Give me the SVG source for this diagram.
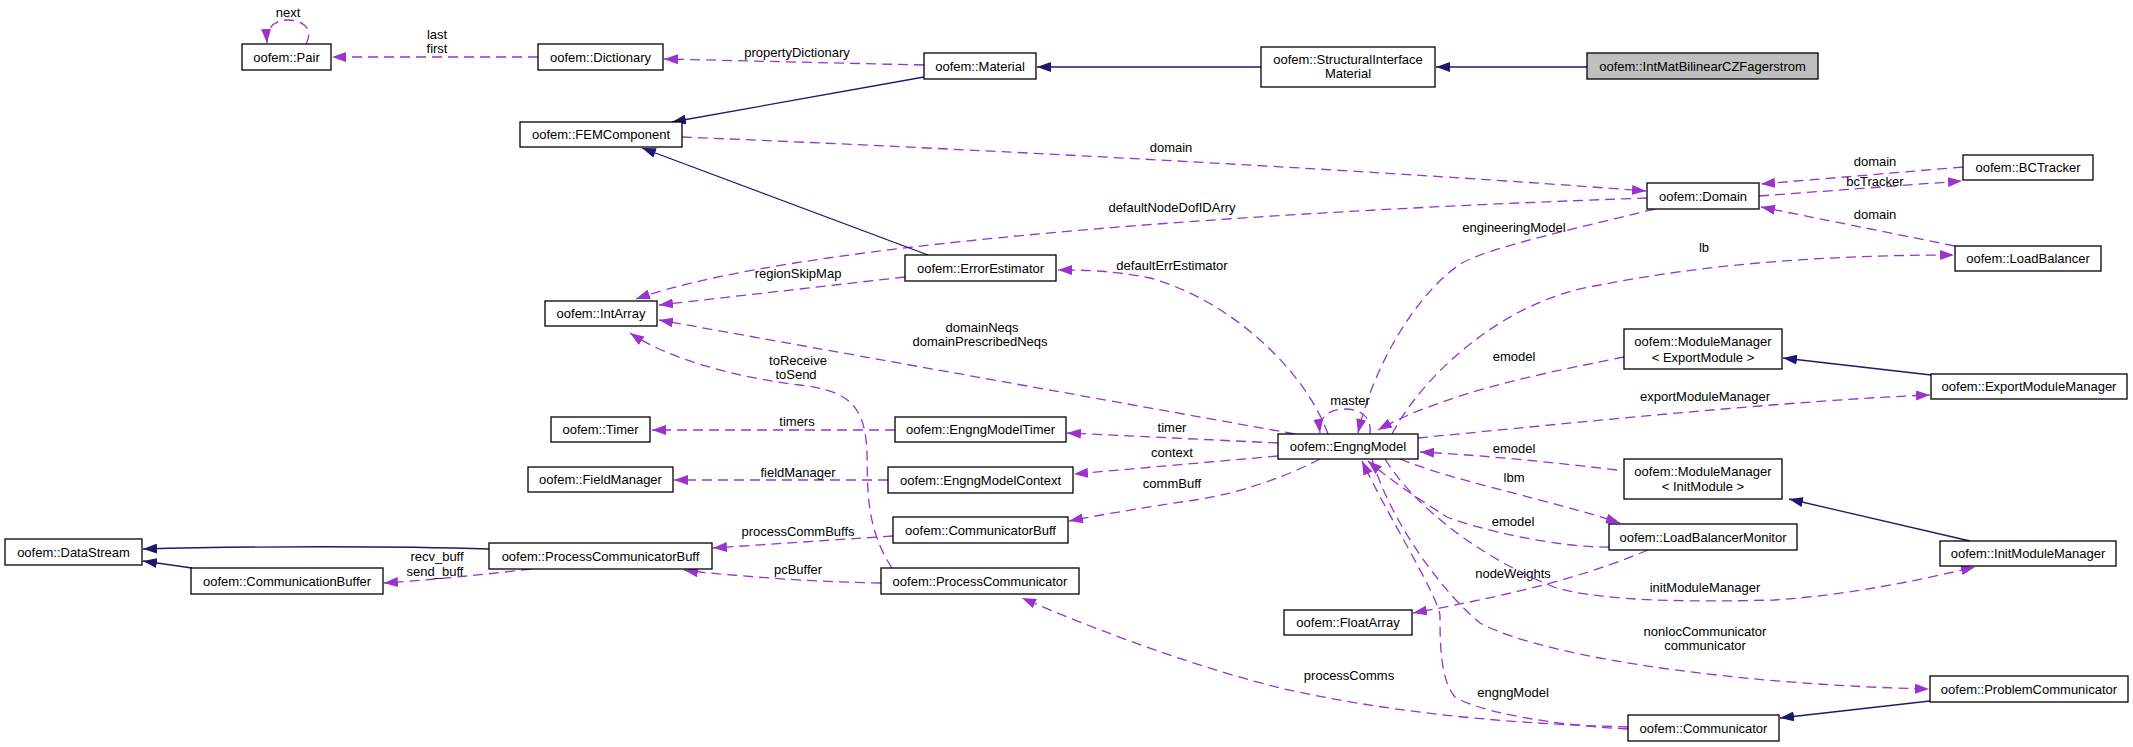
<svg xmlns="http://www.w3.org/2000/svg" width="2133" height="747" viewBox="0 0 2133 747">
<style>
.n rect{fill:#fff;stroke:#000;stroke-width:1.3}
.n rect.focus{fill:#bfbfbf}
text{font-family:"Liberation Sans",Arial,Helvetica,sans-serif;font-size:13px;fill:#000;text-anchor:middle}
.d{fill:none;stroke:#9a32cd;stroke-width:1.3;stroke-dasharray:10,6;marker-end:url(#ap)}
.s{fill:none;stroke:#191970;stroke-width:1.3;marker-end:url(#an)}
</style>
<defs>
<marker id="ap" markerUnits="userSpaceOnUse" markerWidth="14" markerHeight="10" viewBox="0 0 14 10" refX="14" refY="5" orient="auto"><path d="M0,0L14,5L0,10z" fill="#9a32cd"/></marker>
<marker id="an" markerUnits="userSpaceOnUse" markerWidth="14" markerHeight="10" viewBox="0 0 14 10" refX="14" refY="5" orient="auto"><path d="M0,0L14,5L0,10z" fill="#191970"/></marker>
</defs>
<rect width="2133" height="747" fill="#fff"/>
<g id="connectors">
<path class="d" d="M306,44C314,30 304,20 288,20C274,20 266,28 267,43"/>
<text x="288" y="16.5">next</text>
<path class="d" d="M538,57L332,57"/>
<text x="437" y="38.5">last</text><text x="437" y="52.5">first</text>
<path class="d" d="M924,65L664,59"/>
<text x="797" y="56.5">propertyDictionary</text>
<path class="s" d="M924,77L672,122"/>
<path class="s" d="M1261,67L1037,67"/>
<path class="s" d="M1587,67L1436,67"/>
<path class="d" d="M682,137C1000,150 1400,172 1646,191"/>
<text x="1171" y="151.5">domain</text>
<path class="d" d="M1647,198C1300,210 800,240 636,299"/>
<text x="1172" y="211.5">defaultNodeDofIDArry</text>
<path class="s" d="M928,255L642,148"/>
<path class="d" d="M905,277L659,305"/>
<text x="798" y="277.5">regionSkipMap</text>
<path class="d" d="M1963,167L1761,184"/>
<text x="1875" y="165.5">domain</text>
<path class="d" d="M1759,196L1962,181"/>
<text x="1875" y="185.5">bcTracker</text>
<path class="d" d="M1955,246L1761,207"/>
<text x="1875" y="218.5">domain</text>
<path class="d" d="M1655,209C1560,232 1490,248 1462,263C1420,290 1375,360 1358,433"/>
<text x="1514" y="231.5">engineeringModel</text>
<path class="d" d="M1392,434C1420,380 1500,300 1600,285C1700,265 1820,255 1954,255"/>
<text x="1704" y="251.5">lb</text>
<path class="d" d="M1328,434C1305,370 1230,300 1150,278C1110,270 1080,270 1058,270"/>
<text x="1172" y="269.5">defaultErrEstimator</text>
<path class="d" d="M1295,434L659,320"/>
<text x="982" y="331.5">domainNeqs</text><text x="980" y="345.5">domainPrescribedNeqs</text>
<path class="d" d="M892,568C860,520 870,470 866,440C862,400 840,390 800,385C740,378 670,360 630,333"/>
<text x="798" y="364.5">toReceive</text><text x="796" y="378.5">toSend</text>
<path class="d" d="M1370,434C1372,416 1360,409 1345,409C1330,409 1318,416 1320,433"/>
<text x="1350" y="404.5">master</text>
<path class="d" d="M1624,357C1560,370 1450,390 1378,430"/>
<text x="1514" y="360.5">emodel</text>
<path class="d" d="M1418,438C1600,420 1800,400 1930,395"/>
<text x="1705" y="400.5">exportModuleManager</text>
<path class="s" d="M1931,375L1783,358"/>
<path class="d" d="M895,430L652,430"/>
<text x="797" y="425.5">timers</text>
<path class="d" d="M1278,443L1067,433"/>
<text x="1172" y="431.5">timer</text>
<path class="d" d="M888,480L674,480"/>
<text x="798" y="476.5">fieldManager</text>
<path class="d" d="M1278,456L1074,474"/>
<text x="1172" y="456.5">context</text>
<path class="d" d="M1320,459C1280,480 1230,495 1195,500C1140,508 1100,515 1069,521"/>
<text x="1172" y="487.5">commBuff</text>
<path class="d" d="M1617,470C1550,462 1480,455 1420,452"/>
<text x="1514" y="452.5">emodel</text>
<path class="d" d="M1400,459C1450,480 1550,500 1620,523"/>
<text x="1514" y="481.5">lbm</text>
<path class="d" d="M1609,547C1560,548 1480,530 1447,517C1420,500 1390,480 1368,461"/>
<text x="1513" y="525.5">emodel</text>
<path class="s" d="M1970,541L1789,499"/>
<path class="d" d="M1648,550C1600,570 1540,590 1413,613"/>
<text x="1513" y="577.5">nodeWeights</text>
<path class="d" d="M1385,459C1410,500 1470,553 1554,587C1600,602 1700,602 1774,600C1850,595 1920,580 1975,567"/>
<text x="1705" y="591.5">initModuleManager</text>
<path class="d" d="M1372,459C1390,520 1440,590 1480,623C1550,660 1750,685 1929,689"/>
<text x="1705" y="635.5">nonlocCommunicator</text><text x="1705" y="649.5">communicator</text>
<path class="d" d="M1628,729C1550,725 1480,712 1455,697C1440,680 1440,640 1440,615C1435,590 1390,520 1362,461"/>
<text x="1513" y="696.5">engngModel</text>
<path class="s" d="M1930,701L1780,718"/>
<path class="d" d="M1628,727C1520,724 1400,715 1280,688C1200,668 1100,632 1022,598"/>
<text x="1349" y="679.5">processComms</text>
<path class="s" d="M489,549C400,546 250,546 143,549"/>
<path class="s" d="M192,568L143,561"/>
<path class="d" d="M531,569C480,575 430,580 384,583"/>
<text x="437" y="560.5">recv_buff</text><text x="435" y="575.5">send_buff</text>
<path class="d" d="M893,536L713,548"/>
<text x="798" y="535.5">processCommBuffs</text>
<path class="d" d="M881,583C820,582 760,578 700,572C695,571 690,571 684,570"/>
<text x="798" y="573.5">pcBuffer</text>
</g>
<g id="Pair" class="n"><rect x="242" y="44" width="89" height="26"/><text x="286.5" y="61.5">oofem::Pair</text></g>
<g id="Dictionary" class="n"><rect x="538" y="44" width="125" height="26"/><text x="600.5" y="61.5">oofem::Dictionary</text></g>
<g id="Material" class="n"><rect x="924" y="53" width="112" height="26"/><text x="980" y="70.5">oofem::Material</text></g>
<g id="StructuralInterfaceMaterial" class="n"><rect x="1261" y="47" width="174" height="40"/><text x="1348" y="64">oofem::StructuralInterface</text><text x="1348" y="78">Material</text></g>
<g id="IntMatBilinearCZFagerstrom" class="n"><rect class="focus" x="1587" y="53" width="231" height="26"/><text x="1702.5" y="70.5">oofem::IntMatBilinearCZFagerstrom</text></g>
<g id="FEMComponent" class="n"><rect x="520" y="122" width="162" height="25"/><text x="601" y="139">oofem::FEMComponent</text></g>
<g id="Domain" class="n"><rect x="1647" y="183" width="112" height="26"/><text x="1703" y="200.5">oofem::Domain</text></g>
<g id="BCTracker" class="n"><rect x="1963" y="155" width="130" height="25"/><text x="2028" y="172">oofem::BCTracker</text></g>
<g id="LoadBalancer" class="n"><rect x="1955" y="246" width="146" height="25"/><text x="2028" y="263">oofem::LoadBalancer</text></g>
<g id="IntArray" class="n"><rect x="545" y="301" width="112" height="25"/><text x="601" y="318">oofem::IntArray</text></g>
<g id="ErrorEstimator" class="n"><rect x="905" y="255" width="151" height="26"/><text x="980.5" y="272.5">oofem::ErrorEstimator</text></g>
<g id="EngngModel" class="n"><rect x="1278" y="434" width="140" height="25"/><text x="1348" y="451">oofem::EngngModel</text></g>
<g id="ModuleManagerExport" class="n"><rect x="1624" y="329" width="158" height="40"/><text x="1703" y="346">oofem::ModuleManager</text><text x="1703" y="362">&lt; ExportModule &gt;</text></g>
<g id="ExportModuleManager" class="n"><rect x="1931" y="374" width="196" height="25"/><text x="2029" y="391">oofem::ExportModuleManager</text></g>
<g id="ModuleManagerInit" class="n"><rect x="1624" y="459" width="158" height="40"/><text x="1703" y="475.5">oofem::ModuleManager</text><text x="1703" y="490.5">&lt; InitModule &gt;</text></g>
<g id="Timer" class="n"><rect x="551" y="417" width="99" height="25"/><text x="600.5" y="434">oofem::Timer</text></g>
<g id="EngngModelTimer" class="n"><rect x="895" y="417" width="171" height="25"/><text x="980.5" y="434">oofem::EngngModelTimer</text></g>
<g id="FieldManager" class="n"><rect x="528" y="467" width="145" height="25"/><text x="600.5" y="484">oofem::FieldManager</text></g>
<g id="EngngModelContext" class="n"><rect x="888" y="467" width="185" height="26"/><text x="980.5" y="484.5">oofem::EngngModelContext</text></g>
<g id="LoadBalancerMonitor" class="n"><rect x="1609" y="524" width="188" height="26"/><text x="1703" y="541.5">oofem::LoadBalancerMonitor</text></g>
<g id="InitModuleManager" class="n"><rect x="1940" y="541" width="176" height="25"/><text x="2028" y="558">oofem::InitModuleManager</text></g>
<g id="DataStream" class="n"><rect x="5" y="539" width="137" height="26"/><text x="73.5" y="556.5">oofem::DataStream</text></g>
<g id="ProcessCommunicatorBuff" class="n"><rect x="489" y="543" width="223" height="26"/><text x="600.5" y="560.5">oofem::ProcessCommunicatorBuff</text></g>
<g id="CommunicationBuffer" class="n"><rect x="191" y="568" width="192" height="26"/><text x="287" y="585.5">oofem::CommunicationBuffer</text></g>
<g id="CommunicatorBuff" class="n"><rect x="893" y="517" width="175" height="26"/><text x="980.5" y="534.5">oofem::CommunicatorBuff</text></g>
<g id="ProcessCommunicator" class="n"><rect x="881" y="568" width="198" height="26"/><text x="980" y="585.5">oofem::ProcessCommunicator</text></g>
<g id="FloatArray" class="n"><rect x="1284" y="610" width="128" height="25"/><text x="1348" y="627">oofem::FloatArray</text></g>
<g id="ProblemCommunicator" class="n"><rect x="1930" y="676" width="198" height="26"/><text x="2029" y="693.5">oofem::ProblemCommunicator</text></g>
<g id="Communicator" class="n"><rect x="1628" y="715" width="151" height="26"/><text x="1703.5" y="732.5">oofem::Communicator</text></g>
</svg>
